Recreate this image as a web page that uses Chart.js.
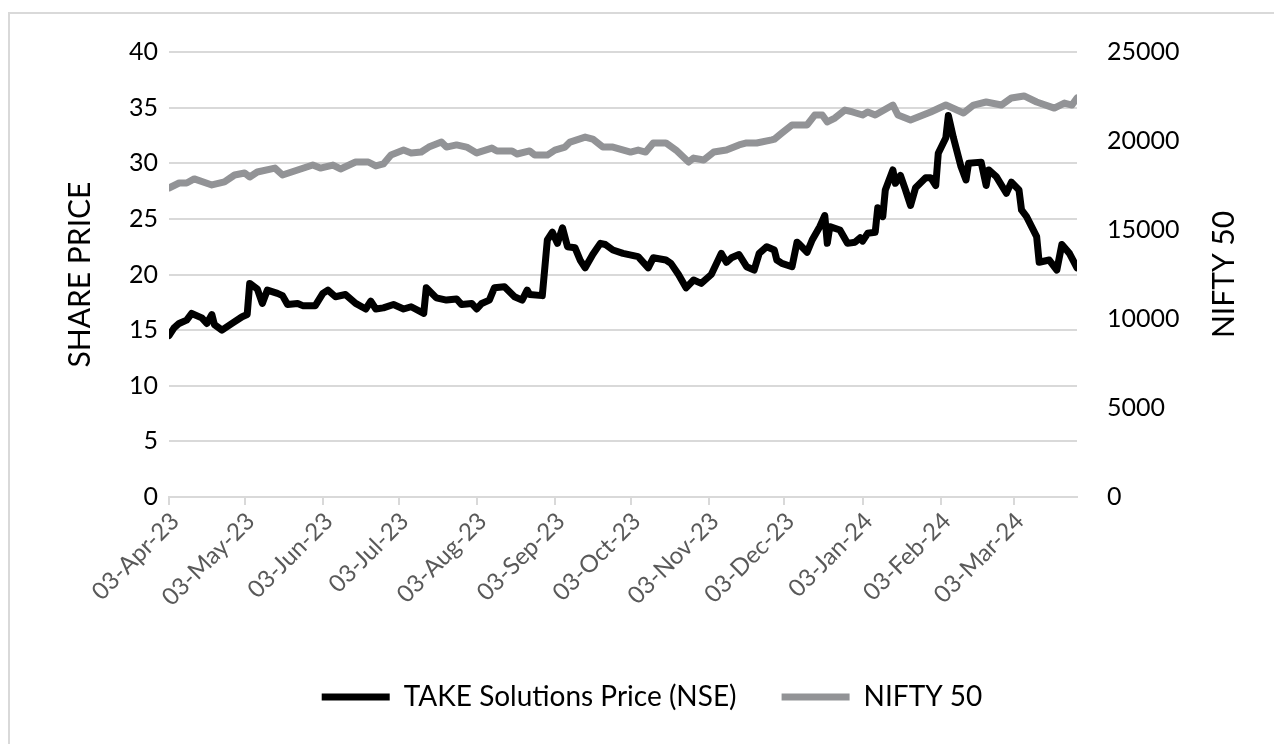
<!DOCTYPE html>
<html>
<head>
<meta charset="utf-8">
<script src="https://cdn.jsdelivr.net/npm/chart.js@4/dist/chart.umd.min.js"></script>
<style>
  html, body { margin: 0; padding: 0; background: #fff; }
  #wrap { position: relative; width: 1274px; height: 744px; }
</style>
</head>
<body>
<div id="wrap"><canvas id="cht" width="1274" height="744"></canvas></div>
<script>
// x values are days counted from 03-Apr-23
const tickDays = [0, 30, 61, 91, 122, 153, 183, 214, 244, 275, 306, 335];
const tickLabels = ['03-Apr-23', '03-May-23', '03-Jun-23', '03-Jul-23', '03-Aug-23', '03-Sep-23',
  '03-Oct-23', '03-Nov-23', '03-Dec-23', '03-Jan-24', '03-Feb-24', '03-Mar-24'];

const takeDays = [0, 2, 4, 7, 9, 13, 15, 17, 18, 21, 25, 29, 31, 32, 35, 37, 39, 43, 45, 47, 51, 53, 58, 61, 63, 66,
  70, 74, 78, 80, 82, 85, 89, 93, 96, 101, 102, 106, 110, 114, 116, 120, 122, 124, 127, 129, 133, 137, 140,
  142, 143, 148, 150, 152, 154, 156, 158, 161, 163, 165, 168, 171, 173, 176, 180, 186, 190, 192, 197, 199,
  202, 205, 208, 211, 215, 219, 221, 223, 226, 229, 232, 234, 237, 240, 241, 243, 247, 249, 250, 253, 255,
  258, 260, 261, 262, 266, 269, 272, 274, 275, 277, 280, 281, 283, 284, 287, 288, 290, 292, 294, 296, 300,
  302, 304, 305, 308, 309, 311, 314, 316, 317, 322, 324, 325, 328, 332, 334, 337, 338, 340, 344, 345, 349,
  352, 354, 357, 360];
const takePrice = [14.5, 15.2, 15.6, 15.9, 16.5, 16.1, 15.6, 16.4, 15.5, 15.0, 15.6, 16.2, 16.4, 19.2, 18.7, 17.4,
  18.6, 18.3, 18.1, 17.3, 17.4, 17.2, 17.2, 18.3, 18.6, 18.0, 18.2, 17.4, 16.9, 17.6, 16.9, 17.0, 17.3, 16.9,
  17.1, 16.5, 18.8, 17.9, 17.7, 17.8, 17.3, 17.4, 16.9, 17.4, 17.7, 18.8, 18.9, 18.0, 17.7, 18.6, 18.2, 18.1,
  23.1, 23.8, 22.8, 24.2, 22.5, 22.4, 21.3, 20.6, 21.8, 22.8, 22.7, 22.2, 21.9, 21.6, 20.6, 21.5, 21.3, 21.0,
  20.0, 18.8, 19.5, 19.2, 20.0, 21.9, 21.1, 21.5, 21.8, 20.7, 20.4, 21.9, 22.5, 22.2, 21.3, 21.0, 20.7, 22.9,
  22.7, 22.0, 23.1, 24.3, 25.3, 22.8, 24.3, 24.0, 22.8, 22.9, 23.3, 23.0, 23.7, 23.8, 26.0, 25.2, 27.6, 29.4,
  28.2, 28.9, 27.6, 26.2, 27.8, 28.7, 28.7, 28.0, 30.9, 32.3, 34.3, 32.3, 29.7, 28.5, 30.0, 30.1, 28.0, 29.4,
  28.8, 27.3, 28.3, 27.6, 25.8, 25.2, 23.4, 21.1, 21.3, 20.4, 22.7, 21.9, 20.6];

const niftyDays = [0, 4, 7, 10, 17, 22, 26, 30, 32, 35, 42, 45, 51, 57, 60, 65, 68, 74, 79, 82, 85, 88, 93, 96, 100,
  103, 108, 110, 114, 118, 122, 128, 130, 136, 138, 143, 145, 150, 153, 157, 159, 165, 168, 172, 176, 183,
  186, 189, 192, 197, 201, 206, 208, 212, 216, 221, 226, 229, 233, 239, 240, 243, 247, 253, 256, 259, 261,
  264, 268, 271, 275, 277, 280, 287, 289, 294, 298, 302, 308, 315, 319, 324, 330, 334, 339, 344, 351, 355,
  358, 360];
const niftyLevel = [17360, 17640, 17640, 17870, 17530, 17700, 18090, 18200, 17980, 18260, 18480, 18090, 18370,
  18650, 18480, 18650, 18430, 18820, 18820, 18600, 18710, 19210, 19490, 19330, 19380, 19660, 19940, 19660,
  19780, 19660, 19330, 19600, 19440, 19440, 19270, 19440, 19210, 19210, 19490, 19660, 19940, 20220, 20110,
  19660, 19660, 19380, 19490, 19380, 19890, 19890, 19490, 18820, 19040, 18930, 19380, 19490, 19780, 19890,
  19890, 20060, 20100, 20450, 20900, 20900, 21460, 21460, 21070, 21290, 21740, 21630, 21460, 21630, 21460,
  22020, 21460, 21180, 21400, 21630, 22020, 21570, 22020, 22190, 22020, 22420, 22530, 22190, 21850, 22130,
  22020, 22420];

const FONT = 'Lato';
Chart.defaults.font.family = FONT;
Chart.defaults.color = '#000';

// frame (runs past the right and bottom edge) and the right title, which reads bottom to top
const extras = {
  id: 'extras',
  beforeDraw(chart) {
    const ctx = chart.ctx;
    ctx.save();
    ctx.fillStyle = '#fff';
    ctx.fillRect(0, 0, chart.width, chart.height);
    ctx.strokeStyle = '#d9d9d9';
    ctx.lineWidth = 2;
    ctx.strokeRect(9, 13, 1300, 800);
    ctx.restore();
  },
  afterLayout(chart) {
    // legend sits centred on the whole frame, a little right of the canvas centre
    chart.legend.left += 15;
    chart.legend.right += 15;
  },
  afterDraw(chart) {
    const ctx = chart.ctx;
    const area = chart.chartArea;
    ctx.save();
    ctx.translate(1224, (area.top + area.bottom) / 2);
    ctx.rotate(-Math.PI / 2);
    ctx.font = '30px ' + FONT;
    ctx.fillStyle = '#000';
    ctx.textAlign = 'center';
    ctx.textBaseline = 'middle';
    ctx.fillText('NIFTY 50', 0, 0);
    ctx.restore();
  }
};

const cht = document.getElementById('cht');
const chart = new Chart(cht, {
  type: 'line',
  data: {
    datasets: [{
      label: 'TAKE Solutions Price (NSE)',
      data: takeDays.map((d, i) => ({x: d, y: takePrice[i]})),
      borderColor: '#000',
      backgroundColor: '#000',
      borderWidth: 7,
      borderJoinStyle: 'round',
      borderCapStyle: 'round',
      pointRadius: 0,
      tension: 0,
      yAxisID: 'y'
    }, {
      label: 'NIFTY 50',
      data: niftyDays.map((d, i) => ({x: d, y: niftyLevel[i]})),
      borderColor: '#929396',
      backgroundColor: '#929396',
      borderWidth: 7,
      borderJoinStyle: 'round',
      borderCapStyle: 'round',
      pointRadius: 0,
      tension: 0,
      yAxisID: 'y1'
    }]
  },
  options: {
    responsive: false,
    animation: false,
    layout: { padding: { top: 52, bottom: 23, left: 0, right: 0 } },
    plugins: {
      title: { display: false },
      tooltip: { enabled: false },
      legend: {
        position: 'bottom',
        labels: {
          usePointStyle: true,
          pointStyle: 'line',
          pointStyleWidth: 68,
          padding: 45,
          color: '#000',
          font: { size: 28 }
        }
      }
    },
    scales: {
      x: {
        type: 'linear',
        min: 0,
        max: 360,
        afterBuildTicks: (axis) => { axis.ticks = tickDays.map(v => ({value: v})); },
        afterFit: (axis) => { axis.height = 141; },
        border: { display: true, color: '#d9d9d9', width: 2 },
        grid: { drawOnChartArea: false, drawTicks: true, tickLength: 8, color: '#d9d9d9', lineWidth: 2 },
        ticks: {
          autoSkip: false,
          minRotation: 45,
          maxRotation: 45,
          padding: 2,
          labelOffset: 6,
          color: '#595959',
          font: { size: 24 },
          callback: (value) => tickLabels[tickDays.indexOf(value)]
        }
      },
      y: {
        position: 'left',
        min: 0,
        max: 40,
        afterFit: (axis) => { axis.width = 169; },
        border: { display: false },
        grid: { color: '#d9d9d9', lineWidth: 2, drawTicks: false },
        ticks: { stepSize: 5, padding: 11, color: '#000', font: { size: 25 } },
        title: { display: true, text: 'SHARE PRICE', color: '#000', font: { size: 30 }, padding: { top: 62, bottom: 0 } }
      },
      y1: {
        position: 'right',
        min: 0,
        max: 25000,
        afterFit: (axis) => { axis.width = 197; },
        border: { display: false },
        grid: { display: false, drawTicks: false },
        ticks: { stepSize: 5000, padding: 30, color: '#000', font: { size: 25 }, callback: (v) => String(v) }
      }
    }
  },
  plugins: [extras]
});
</script>
</body>
</html>
